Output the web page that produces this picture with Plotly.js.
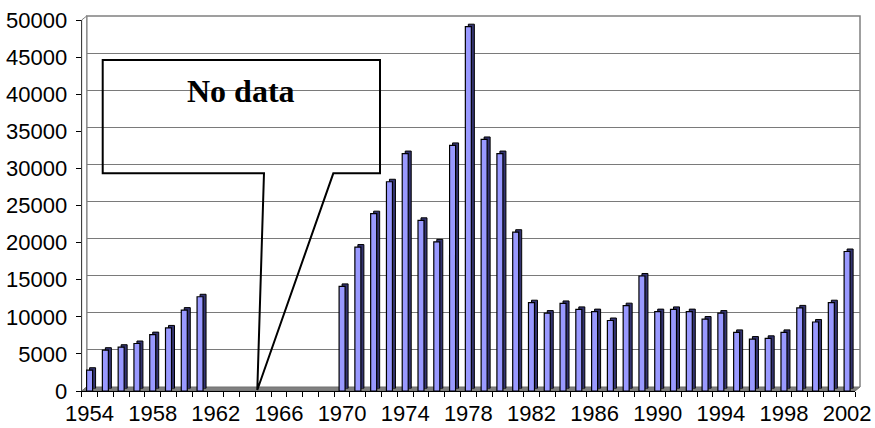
<!DOCTYPE html>
<html>
<head>
<meta charset="utf-8">
<script src="https://cdn.plot.ly/plotly-3.0.1.min.js"></script>
<style>html,body{margin:0;padding:0;background:#fff;}#chart{width:875px;height:428px;}</style>
</head>
<body>
<div id="chart"></div>
<script>
// ---- data ----
const years = [1954,1955,1956,1957,1958,1959,1960,1961,1962,1963,1964,1965,1966,1967,1968,1969,
  1970,1971,1972,1973,1974,1975,1976,1977,1978,1979,1980,1981,1982,1983,1984,1985,1986,1987,
  1988,1989,1990,1991,1992,1993,1994,1995,1996,1997,1998,1999,2000,2001,2002];
const values = [2800,5500,5900,6400,7600,8500,10900,12700,
  null,null,null,null,null,null,null,null,
  14100,19400,23900,28200,32000,23000,20100,33100,49100,33900,32000,21400,11900,10500,11800,11000,
  10700,9500,11500,15500,10700,11000,10700,9700,10500,7900,7000,7100,7900,11200,9300,11900,18800];
const xTickLabels = [1954,1958,1962,1966,1970,1974,1978,1982,1986,1990,1994,1998,2002];
const calloutText = 'No data';

// ---- geometry (pixels) ----
const W = 875, H = 428;
const front = {x0: 81.7, x1: 855, y0: 391, y1: 20};
const depth = {dx: 5, dy: -4};
const barDepth = {dx: 3, dy: -2.5};
function dom(a, b, total, flip) {
  return flip ? [(total - a) / total, (total - b) / total] : [a / total, b / total];
}
const xr = [1953.5, 2002.5], yr = [0, 50000];
const pxToX = p => xr[0] + (p - front.x0) / (front.x1 - front.x0) * (xr[1] - xr[0]);
const pxToY = p => (front.y0 - p) / (front.y0 - front.y1) * (yr[1] - yr[0]);

const font = 'Liberation Sans, Arial, sans-serif';
const boundaries = years.map(y => y - 0.5).concat([years[years.length - 1] + 0.5]);

const traces = [
  { // invisible trace so the back-wall subplot (gridlines) is drawn
    type: 'scatter', x: [xr[0]], y: [0], xaxis: 'x', yaxis: 'y', mode: 'markers',
    marker: {opacity: 0}, hoverinfo: 'skip'
  },
  { // back copy of bars (3D depth)
    type: 'bar', x: years, y: values, xaxis: 'x2', yaxis: 'y2', width: 0.38,
    marker: {color: '#333370', line: {color: '#000', width: 1}}, hoverinfo: 'skip'
  },
  { // front bars
    type: 'bar', x: years, y: values, xaxis: 'x3', yaxis: 'y3', width: 0.38,
    marker: {color: '#9999ff', line: {color: '#000', width: 1.2}}
  }
];

function p(x, y) { return (x / W) + ',' + (1 - y / H); }
const fl = front, bk = {x0: front.x0 + depth.dx, x1: front.x1 + depth.dx, y0: front.y0 + depth.dy, y1: front.y1 + depth.dy};

// callout geometry in pixels -> data coords
const cb = {l: 102.7, r: 380, t: 60, b: 173.3, legL: 264, legR: 333.3, tipX: 257.3, tipY: 390};
function d(px, py) { return pxToX(px).toFixed(3) + ',' + pxToY(py).toFixed(1); }
const calloutPath = 'M ' + d(cb.l, cb.t) + ' L ' + d(cb.r, cb.t) + ' L ' + d(cb.r, cb.b) +
  ' L ' + d(cb.legR, cb.b) + ' L ' + d(cb.tipX, cb.tipY) + ' L ' + d(cb.legL, cb.b) +
  ' L ' + d(cb.l, cb.b) + ' Z';

const layout = {
  width: W, height: H,
  margin: {l: 0, r: 0, t: 0, b: 0},
  paper_bgcolor: '#fff', plot_bgcolor: 'rgba(0,0,0,0)',
  showlegend: false, barmode: 'overlay',
  font: {family: font, color: '#000'},
  // back wall (gridlines)
  xaxis: {domain: dom(bk.x0, bk.x1, W), range: xr, showgrid: false, showticklabels: false, ticks: '', zeroline: false, anchor: 'y', fixedrange: true},
  yaxis: {domain: dom(bk.y0, bk.y1, H, true), range: yr, dtick: 5000, tick0: 0, tickmode: 'linear', showgrid: true, gridcolor: '#7a7a7a', gridwidth: 1,
          showticklabels: false, ticks: '', zeroline: false, anchor: 'x', fixedrange: true},
  // bar depth copy
  xaxis2: {domain: dom(front.x0 + barDepth.dx, front.x1 + barDepth.dx, W), range: xr, visible: false, anchor: 'y2'},
  yaxis2: {domain: dom(front.y0 + barDepth.dy, front.y1 + barDepth.dy, H, true), range: yr, visible: false, anchor: 'x2'},
  // front
  xaxis3: {domain: dom(front.x0, front.x1, W), range: xr, anchor: 'y3', tickmode: 'array', tickvals: xTickLabels,
           ticks: '', showline: true, linecolor: '#000', linewidth: 1, showgrid: false, zeroline: false,
           tickfont: {size: 22, family: font, color: '#000'}, ticklabelstandoff: 3,
           minor: {tickmode: 'array', tickvals: boundaries, ticks: 'outside', ticklen: 5, tickcolor: '#000', tickwidth: 1, showgrid: false}},
  yaxis3: {domain: dom(front.y0, front.y1, H, true), range: yr, anchor: 'x3', dtick: 5000, tickmode: 'linear', tick0: 0,
           tickformat: 'd', exponentformat: 'none', separatethousands: false,
           ticks: 'outside', ticklen: 5, tickcolor: '#000', showline: true, linecolor: '#404040', linewidth: 1,
           showgrid: false, zeroline: false, tickfont: {size: 22, family: font, color: '#000'}, ticklabelstandoff: 4},
  shapes: [
    // back wall border
    {type: 'path', xref: 'paper', yref: 'paper', layer: 'below',
     path: 'M ' + p(bk.x0, bk.y0) + ' L ' + p(bk.x0, bk.y1) + ' L ' + p(bk.x1, bk.y1) + ' L ' + p(bk.x1, bk.y0),
     line: {color: '#808080', width: 1.5}},
    // left wall
    {type: 'path', xref: 'paper', yref: 'paper', layer: 'below',
     path: 'M ' + p(fl.x0, fl.y0) + ' L ' + p(fl.x0, fl.y1) + ' L ' + p(bk.x0, bk.y1) + ' L ' + p(bk.x0, bk.y0) + ' Z',
     fillcolor: '#ffffff', line: {color: '#808080', width: 1}},
    // floor
    {type: 'path', xref: 'paper', yref: 'paper', layer: 'below',
     path: 'M ' + p(fl.x0, fl.y0) + ' L ' + p(fl.x1, fl.y0) + ' L ' + p(bk.x1, bk.y0) + ' L ' + p(bk.x0, bk.y0) + ' Z',
     fillcolor: '#808080', line: {color: '#707070', width: 1}},
    // callout
    {type: 'path', xref: 'x3', yref: 'y3', layer: 'above', path: calloutPath,
     line: {color: '#000', width: 2}, fillcolor: 'rgba(0,0,0,0)'}
  ],
  annotations: [
    {xref: 'x3', yref: 'y3', x: pxToX(241), y: pxToY(90.5), text: '<b>' + calloutText + '</b>', showarrow: false,
     font: {family: 'Liberation Serif, Times New Roman, serif', size: 32, color: '#000'}, xanchor: 'center', yanchor: 'middle'}
  ]
};

Plotly.newPlot('chart', traces, layout, {staticPlot: true, displayModeBar: false});
</script>
</body>
</html>
